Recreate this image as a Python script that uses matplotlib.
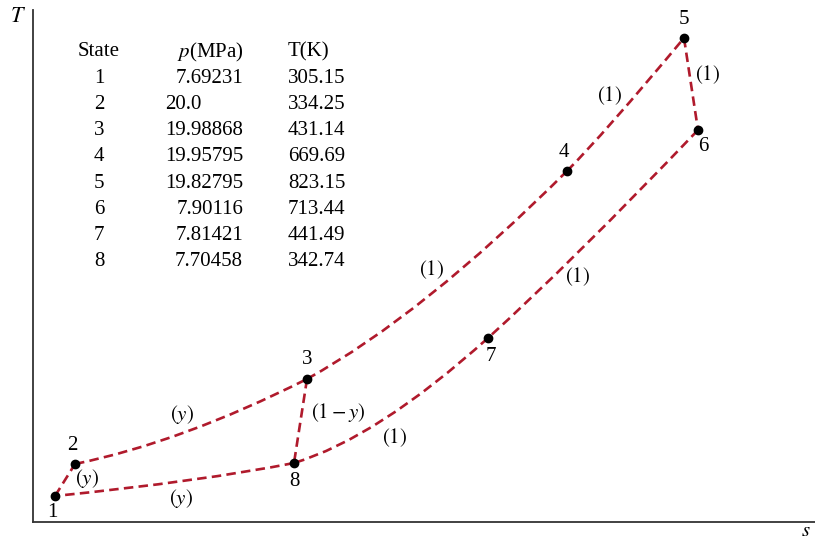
import matplotlib.pyplot as plt
from matplotlib.path import Path
from matplotlib.patches import PathPatch

plt.rcParams['font.family'] = ['Liberation Serif', 'DejaVu Serif']
plt.rcParams['mathtext.fontset'] = 'stix'

# state points (schematic s, T)
state_id = ['1', '2', '3', '4', '5', '6', '7', '8']
state_s = [22, 42, 274, 534, 651, 665, 455, 261]
state_T = [26, 58, 143, 351, 484, 392, 184, 59]

# processes: (from, to) state index, and the bend point of each curve
# (None means a straight line)
proc_from = [0, 1, 2, 3, 4, 5, 6, 7, 2]
proc_to = [1, 2, 3, 4, 5, 6, 7, 0, 7]
bend_s = [None, 149, 390, 571, None, 538, 344, 170, None]
bend_T = [None, 80, 207, 388, None, 259, 84, 41, None]

# process weights
proc_text = ['$(y)$', '$(y)$', '$(y)$', '$(1-y)$', '$(1)$', '$(1)$', '$(1)$', '$(1)$', '$(1)$']
proc_s = [54, 149, 148, 305, 362, 399, 577, 675, 545]
proc_T = [44, 107, 24, 109, 84, 252, 426, 447, 245]

# table
tab_state = ['1', '2', '3', '4', '5', '6', '7', '8']
tab_p = ['7.69231', '20.0', '19.98868', '19.95795', '19.82795', '7.90116', '7.81421', '7.70458']
tab_T = ['305.15', '334.25', '431.14', '669.69', '823.15', '713.44', '441.49', '342.74']

fig = plt.figure(figsize=(8.15, 5.4), dpi=100)
ax = fig.add_axes([33 / 815, 18 / 540, 782 / 815, 512 / 540])
ax.set_xlim(0, 782)
ax.set_ylim(0, 512)

red = '#b01a2c'
for a, b, cs, ct in zip(proc_from, proc_to, bend_s, bend_T):
    p0 = (state_s[a], state_T[a])
    p1 = (state_s[b], state_T[b])
    if cs is None:
        path = Path([p0, p1], [Path.MOVETO, Path.LINETO])
    else:
        path = Path([p0, (cs, ct), p1], [Path.MOVETO, Path.CURVE3, Path.CURVE3])
    ax.add_patch(PathPatch(path, fill=False, edgecolor=red, lw=1.9,
                           linestyle=(0, (3.6, 2.0)), capstyle='butt', zorder=2))

ax.plot(state_s, state_T, 'o', color='k', ms=6, zorder=3)

# state label offsets (points)
offs = [(-2, -12), (-2, 13), (0, 14), (-2, 13), (0, 13), (4, -12), (2, -13), (0, -13)]
for lab, x, y, (dx, dy) in zip(state_id, state_s, state_T, offs):
    ax.annotate(lab, (x, y), xytext=(dx, dy), textcoords='offset points',
                ha='center', va='center', fontsize=15)

for t, x, y in zip(proc_text, proc_s, proc_T):
    ax.text(x, y, t, ha='center', va='center', fontsize=15)

# table text, placed in figure pixels
fs = 15
row_y = [52 + 26.2 * i for i in range(9)]
def px(x, y):
    return (x - 33, 522 - y)

ax.text(*px(99, row_y[0]), 'State', ha='center', va='center', fontsize=fs)
ax.text(*px(243, row_y[0]), '$p$(MPa)', ha='right', va='center', fontsize=fs)
ax.text(*px(288, row_y[0]), 'T(K)', ha='left', va='center', fontsize=fs)
for i in range(8):
    y = row_y[i + 1]
    ax.text(*px(99, y), tab_state[i], ha='center', va='center', fontsize=fs)
    if tab_p[i] == '20.0':
        ax.text(*px(165, y), tab_p[i], ha='left', va='center', fontsize=fs)
    else:
        ax.text(*px(243, y), tab_p[i], ha='right', va='center', fontsize=fs)
    ax.text(*px(288, y), tab_T[i], ha='left', va='center', fontsize=fs)

ax.spines['top'].set_visible(False)
ax.spines['right'].set_visible(False)
for side in ['left', 'bottom']:
    ax.spines[side].set_linewidth(1.3)
    ax.spines[side].set_color('#333333')
ax.set_xticks([])
ax.set_yticks([])

fig.text(18 / 815, 1 - 18 / 540, '$T$', ha='center', va='center', fontsize=16)
fig.text(806 / 815, 1 - 531 / 540, '$s$', ha='center', va='center', fontsize=15)

fig.savefig('out.png', dpi=100)
